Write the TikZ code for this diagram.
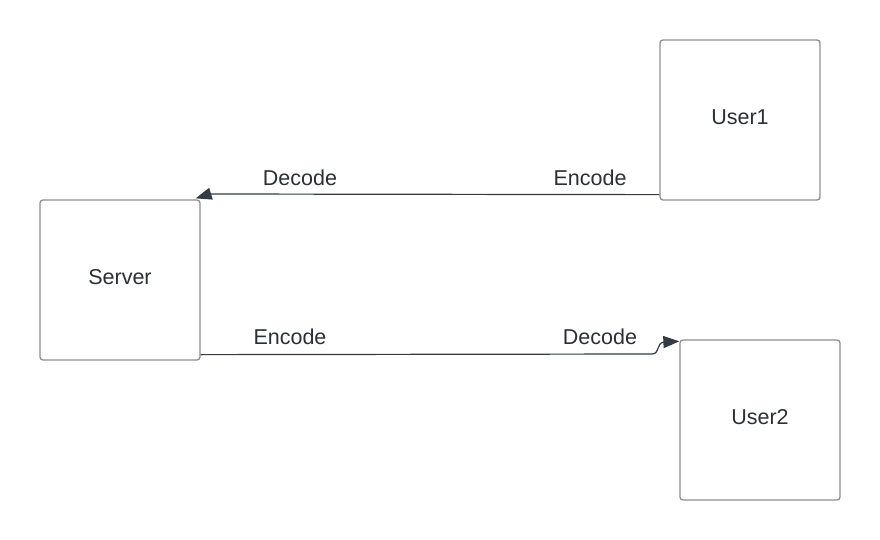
\documentclass[tikz,border=0pt]{standalone}
\usepackage{fontspec}
\setmainfont{Liberation Sans}
\usetikzlibrary{arrows.meta}
\definecolor{boxgray}{HTML}{8E8E8E}
\definecolor{linec}{HTML}{343B45}
\definecolor{txt}{HTML}{2B2F36}
\begin{document}
\begin{tikzpicture}[x=1pt,y=-1pt,
 box/.style={draw=boxgray, line width=1.3pt, rounded corners=3pt, minimum width=160pt, minimum height=160pt, inner sep=0pt, font=\fontsize{21.5}{26}\selectfont, text=txt},
 lbl/.style={font=\fontsize{21.5}{26}\selectfont, text=txt, inner sep=0pt},
 conn/.style={draw=linec, line width=1.2pt, -{Triangle[length=16pt,width=12pt]}}]
\useasboundingbox[fill=white] (0,0) rectangle (880,540);
\node[box] (server) at (120,280) {};
\node[lbl] (servert) at (120,277) {Server};
\node[box] (user1) at (740,120) {};
\node[lbl] (user1t) at (740,117) {User1};
\node[box] (user2) at (760,420) {};
\node[lbl] (user2t) at (760,417) {User2};
\node[lbl] (d1) at (300,178) {Decode};
\node[lbl] (e1) at (590,178) {Encode};
\node[lbl] (e2) at (290,337) {Encode};
\node[lbl] (d2) at (600,337) {Decode};
\draw[conn] ([yshift=6pt]user1.south west) -- (210,194) -- ([shift={(-5pt,1pt)}]server.north east);
\draw[conn] ([yshift=6pt]server.south east) -- (652,354) .. controls (660,354) and (656,343) .. (664,342) -- ([yshift=-2pt]user2.north west);
\end{tikzpicture}
\end{document}
